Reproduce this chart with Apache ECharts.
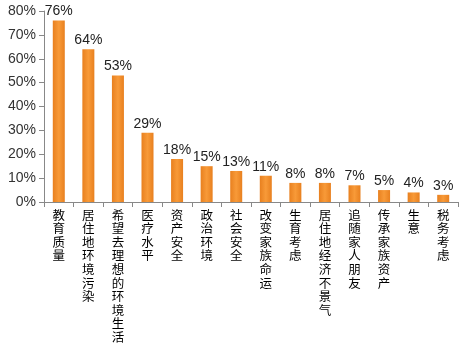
<!DOCTYPE html>
<html><head><meta charset="utf-8">
<script src="https://cdn.jsdelivr.net/npm/echarts@6/dist/echarts.min.js"></script>
<style>html,body{margin:0;padding:0;background:#fff}#c{width:466px;height:344px}</style>
</head><body><div id="c"></div>
<script>
const categories = ['教育质量','居住地环境污染','希望去理想的环境生活','医疗水平','资产安全','政治环境','社会安全','改变家族命运','生育考虑','居住地经济不景气','追随家人朋友','传承家族资产','生意','税务考虑'];
const values = [76,64,53,29,18,15,13,11,8,8,7,5,4,3];
const yTicks = [0,10,20,30,40,50,60,70,80];

const chart = echarts.init(document.getElementById('c'));
chart.setOption({
  animation:false,
  grid:{left:44,right:8,top:11,bottom:141},
  xAxis:{
    type:'category',data:categories,
    axisLine:{lineStyle:{color:'#888'}},
    axisTick:{show:true,length:5,lineStyle:{color:'#888'}},
    axisLabel:{interval:0,margin:6,color:'#000',fontSize:12.5,lineHeight:13.6,
      fontFamily:'Noto Sans CJK SC',verticalAlign:'top',
      formatter:v=>v.split('').join('\n')}
  },
  yAxis:{
    type:'value',min:0,max:80,interval:10,
    axisLine:{show:true,lineStyle:{color:'#888'}},
    axisTick:{show:true,length:5,lineStyle:{color:'#888'}},
    splitLine:{show:false},
    axisLabel:{color:'#333',fontSize:14,fontFamily:'Liberation Sans',margin:8,
      formatter:v=>yTicks.includes(v)?v+'%':''}
  },
  series:[{
    type:'bar',data:values,barWidth:12,
    itemStyle:{color:new echarts.graphic.LinearGradient(0,0,1,0,[
      {offset:0,color:'#E8801F'},{offset:0.5,color:'#F89A38'},{offset:1,color:'#E8801F'}])},
    label:{show:true,position:'top',distance:2,color:'#222',fontSize:14,
      fontFamily:'Liberation Sans',formatter:p=>p.value+'%'}
  }]
});
</script></body></html>
